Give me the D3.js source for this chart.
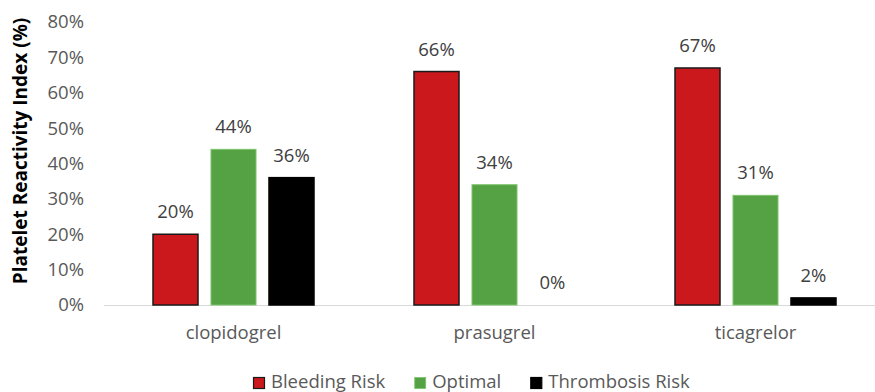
<!DOCTYPE html>
<html>
<head>
<meta charset="utf-8">
<script src="https://cdn.jsdelivr.net/npm/d3@7"></script>
<style>
  html, body { margin: 0; padding: 0; background: #fff; }
  svg { display: block; font-family: "Open Sans", sans-serif; }
</style>
</head>
<body>
<svg id="chart" width="875" height="392"></svg>
<script>
// Platelet reactivity categories per antiplatelet drug
const drugs = ["clopidogrel", "prasugrel", "ticagrelor"];
const seriesNames = ["Bleeding Risk", "Optimal", "Thrombosis Risk"];
const bleedingRisk = [20, 66, 67];
const optimal = [44, 34, 31];
const thrombosisRisk = [36, 0, 2];
const yTicks = [0, 10, 20, 30, 40, 50, 60, 70, 80];

const fills = ["#CA181D", "#55A245", "#000000"];
const strokes = ["#1a1a1a", "#7DC46C", "#000000"];

const rows = drugs.map((d, i) => ({
  drug: d,
  values: [bleedingRisk[i], optimal[i], thrombosisRisk[i]]
}));

const svg = d3.select("#chart");

const x0 = d3.scaleBand().domain(drugs).range([103, 886]).paddingInner(0).paddingOuter(0);
const x1 = d3.scaleBand().domain(seriesNames).range([50, 211]).paddingInner(0.224).paddingOuter(0);
const y = d3.scaleLinear().domain([0, 80]).range([305, 22]);

// y axis tick labels (no axis line, no tick marks)
const yAxis = d3.axisLeft(y).tickValues(yTicks).tickFormat(d => d + "%").tickSize(0).tickPadding(0);
const gy = svg.append("g").attr("transform", "translate(84,0)").call(yAxis);
gy.select(".domain").remove();
gy.selectAll("text")
  .attr("font-family", "Open Sans, sans-serif")
  .attr("font-size", 18.5)
  .attr("fill", "#595959");

// baseline
svg.append("line")
  .attr("x1", 104).attr("x2", 875)
  .attr("y1", y(0) + 0.5).attr("y2", y(0) + 0.5)
  .attr("stroke", "#D9D9D9").attr("stroke-width", 1.2);

// category labels
const xAxis = d3.axisBottom(x0).tickSize(0).tickPadding(0);
const gx = svg.append("g").attr("transform", "translate(0,320)").call(xAxis);
gx.select(".domain").remove();
gx.selectAll("text")
  .attr("font-family", "Open Sans, sans-serif")
  .attr("font-size", 18.5)
  .attr("fill", "#595959")
  .attr("dy", "1em");

// bars
const groups = svg.selectAll("g.grp").data(rows).enter().append("g")
  .attr("class", "grp")
  .attr("transform", d => `translate(${x0(d.drug)},0)`);

const cells = groups.selectAll("g.cell")
  .data(d => d.values.map((v, k) => ({ key: seriesNames[k], k, v })))
  .enter().append("g").attr("class", "cell");

cells.filter(d => d.v > 0).append("rect")
  .attr("x", d => x1(d.key))
  .attr("y", d => y(d.v))
  .attr("width", x1.bandwidth())
  .attr("height", d => y(0) - y(d.v))
  .attr("fill", d => fills[d.k])
  .attr("stroke", d => strokes[d.k])
  .attr("stroke-width", d => d.k === 1 ? 1 : 1.5);

cells.append("text")
  .attr("x", d => x1(d.key) + x1.bandwidth() / 2)
  .attr("y", d => y(d.v) - 16)
  .attr("text-anchor", "middle")
  .attr("font-size", 18.5)
  .attr("fill", "#404040")
  .text(d => d.v + "%");

// y axis title
svg.append("text")
  .attr("transform", "translate(27,151) rotate(-90)")
  .attr("text-anchor", "middle")
  .attr("font-size", 19)
  .attr("font-weight", "bold")
  .attr("fill", "#000")
  .text("Platelet Reactivity Index (%)");

// legend
const legend = svg.append("g").attr("transform", "translate(253,0)");
let lx = 0;
seriesNames.forEach((name, k) => {
  const item = legend.append("g").attr("transform", `translate(${lx},0)`);
  item.append("rect")
    .attr("x", 0.5).attr("y", 377.5)
    .attr("width", 11).attr("height", 11)
    .attr("fill", fills[k])
    .attr("stroke", strokes[k])
    .attr("stroke-width", k === 1 ? 0.8 : 1.2);
  const t = item.append("text")
    .attr("x", 18).attr("y", 388)
    .attr("font-size", 18.5)
    .attr("fill", "#595959")
    .text(name);
  lx += 18 + t.node().getComputedTextLength() + 29;
});
</script>
</body>
</html>
